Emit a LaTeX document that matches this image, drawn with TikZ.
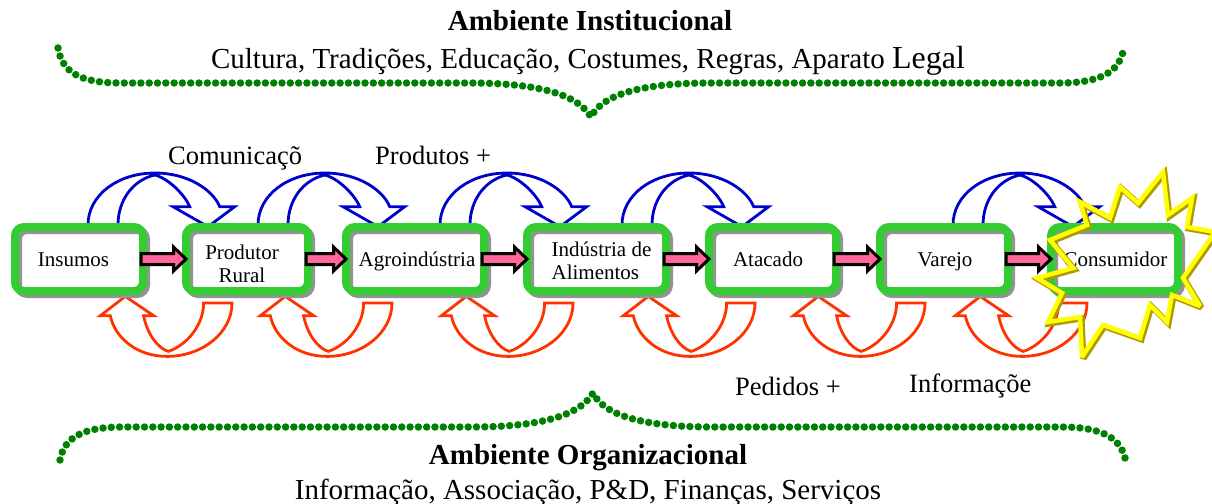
\documentclass[tikz,border=0pt]{standalone}
\usepackage{fontspec}
\setmainfont{Liberation Serif}
\usetikzlibrary{calc}
\pgfdeclarelayer{behind}
\pgfsetlayers{behind,main}
\definecolor{boxgreen}{RGB}{51,204,51}
\definecolor{dotgreen}{RGB}{0,128,0}
\definecolor{arrblue}{RGB}{0,0,204}
\definecolor{arrred}{RGB}{255,51,0}
\definecolor{flowpink}{RGB}{255,102,153}
\definecolor{staryel}{RGB}{255,255,0}
\definecolor{starshd}{RGB}{175,155,0}
\newcommand\bluearc[2]{\draw[bluearr, shift={($(#1.north west)+(#2,-2)$)}] (0,0) .. controls (0,-30) and (30,-52) .. (67,-52) .. controls (100,-52) and (125,-35) .. (131.7,-18.3) -- (146.7,-18.3) -- (120,1.7) -- (85,-18.3) -- (101.7,-18.3) .. controls (97,-30) and (80,-47) .. (66.7,-50) .. controls (45,-45) and (30,-25) .. (30,0) -- cycle;}
\newcommand\redarc[2]{\draw[redarr, shift={($(#1.south west)+(#2,12)$)}, xscale=-1] (0,0) .. controls (0,30) and (30,53.4) .. (65,53.4) .. controls (95,53.4) and (117,35) .. (121.7,12.7) -- (131.7,12.7) -- (106.7,-6.6) -- (78.4,12.7) -- (88.4,12.7) .. controls (85,30) and (75,45) .. (63.7,48.4) .. controls (45,42) and (28.4,22) .. (28.4,0) -- cycle;}
\newcommand\flow[2]{\draw[flowarr] let \p1=(#1.east), \p2=(#2.west) in (\x1-2pt,\y1+5.5pt) -- (\x2-12.5pt,\y1+5.5pt) -- (\x2-12.5pt,\y1+12pt) -- (\x2,\y1) -- (\x2-12.5pt,\y1-12pt) -- (\x2-12.5pt,\y1-5.5pt) -- (\x1-2pt,\y1-5.5pt) -- cycle;}
\newcommand\starline[1]{\draw[#1] (48.5,-87) -- (23.5,-56) -- (5.5,-72) -- (-4.5,-41) -- (-34.5,-57) -- (-27.5,-34) -- (-64.5,-19) -- (-41.5,9) -- (-77.5,19) -- (-52.5,34) -- (-66.5,63) -- (-34.5,58) -- (-32.5,98) -- (-11.5,66) -- (25.5,79) -- (35.5,46) -- (52.5,63) -- (57.5,36) -- (85.5,47) -- (68.5,19) -- (100.5,-27) -- (72.5,-32) -- (77.5,-61) -- (53.5,-44) -- cycle;}
\begin{document}
\begin{tikzpicture}[x=1pt,y=-1pt,
  box/.style={rounded corners=9pt, minimum height=64pt, inner sep=0pt, outer sep=0pt,
    line width=8pt, draw=boxgreen,
    preaction={fill=white},
    preaction={draw=gray!85, transform canvas={xshift=3pt,yshift=-3pt}}},
  boxtext/.style={inner sep=0pt, font=\fontsize{21}{23}\selectfont},
  flowarr/.style={fill=flowpink, draw=black, line width=3pt, line join=miter},
  bluearr/.style={draw=arrblue, fill=white, line width=2.8pt, line join=miter},
  redarr/.style={draw=arrred, fill=white, line width=2.8pt, line join=miter},
  brace/.style={draw=dotgreen, line width=7.5pt, line cap=round, dash pattern=on 0pt off 8.3pt},
  title/.style={inner sep=0pt, font=\fontsize{29}{32}\selectfont\bfseries},
  sub/.style={inner sep=0pt, font=\fontsize{29}{32}\selectfont},
  lab/.style={inner sep=0pt, font=\fontsize{26.5}{30}\selectfont}]
\useasboundingbox (0,0) rectangle (1212,503);
% braces
\draw[brace] (58,48) .. controls (62,72) and (80,83) .. (120,83) -- (470,83) .. controls (540,83) and (578,95) .. (591,117) .. controls (602,95) and (640,83) .. (710,83) -- (1060,83) .. controls (1100,83) and (1118,72) .. (1123,52);
\draw[brace] (60,460) .. controls (64,438) and (82,427) .. (122,427) -- (472,427) .. controls (542,427) and (580,415) .. (593,393) .. controls (604,415) and (642,427) .. (712,427) -- (1062,427) .. controls (1102,427) and (1120,438) .. (1125,458);
% texts
\node[title, anchor=base] (t1) at (590,31) {Ambiente Institucional};
\node[sub, anchor=base] (t2) at (588,69) {Cultura, Tradições, Educação, Costumes, Regras, Aparato {\fontsize{32}{36}\selectfont Legal}};
\node[title, anchor=base] (t3) at (588,464) {Ambiente Organizacional};
\node[sub, anchor=base] (t4) at (588,499) {Informação, Associação, P\&D, Finanças, Serviços};
\node[lab, anchor=base west] (l1) at (168,164) {Comunicaçõ};
\node[lab, anchor=base west] (l2) at (375,164) {Produtos +};
\node[lab, anchor=base west] (l3) at (735,395) {Pedidos +};
\node[lab, anchor=base west] (l4) at (909,392) {Informaçõe};
% boxes
\node[box, minimum width=128pt] (b1) at (79,259) {};
\node[box, minimum width=122pt] (b2) at (247,259) {};
\node[box, minimum width=138pt] (b3) at (415,259) {};
\node[box, minimum width=139pt] (b4) at (596.5,259) {};
\node[box, minimum width=127pt] (b5) at (772.5,259) {};
\node[box, minimum width=128pt] (b6) at (944,259) {};
\node[box, minimum width=127pt] (b7) at (1114.5,259) {};
% box texts
\node[boxtext, anchor=base] (x1) at ($(b1.center)+(-5.5,7)$) {Insumos};
\node[boxtext, align=center] (x2) at ($(b2.center)+(-5,5)$) {Produtor\\Rural};
\node[boxtext, anchor=base] (x3) at ($(b3.center)+(2,7)$) {Agroindústria};
\node[boxtext, align=left] (x4) at ($(b4.center)+(5,2)$) {Indústria de\\Alimentos};
\node[boxtext, anchor=base] (x5) at ($(b5.center)+(-4.5,7)$) {Atacado};
\node[boxtext, anchor=base] (x6) at ($(b6.center)+(1,7)$) {Varejo};
\node[boxtext, anchor=base] (x7) at ($(b7.center)+(1,7)$) {Consumidor};
% curved arrows behind the boxes
\begin{pgfonlayer}{behind}
\bluearc{b1}{73}
\bluearc{b2}{72}
\bluearc{b3}{94}
\bluearc{b4}{95}
\bluearc{b6}{73}
\redarc{b2}{46}
\redarc{b3}{46}
\redarc{b4}{46}
\redarc{b5}{46}
\redarc{b6}{45}
\redarc{b7}{36}
\end{pgfonlayer}
% flow arrows
\flow{b1}{b2}
\flow{b2}{b3}
\flow{b3}{b4}
\flow{b4}{b5}
\flow{b5}{b6}
\flow{b6}{b7}
% explosion around the consumer
\begin{scope}[shift={(b7.center)}]
\starline{draw=starshd, line width=6pt, line join=miter, miter limit=3, shift={(1.5,1.5)}}
\starline{draw=staryel, line width=4.5pt, line join=miter, miter limit=3}
\end{scope}
\end{tikzpicture}
\end{document}
